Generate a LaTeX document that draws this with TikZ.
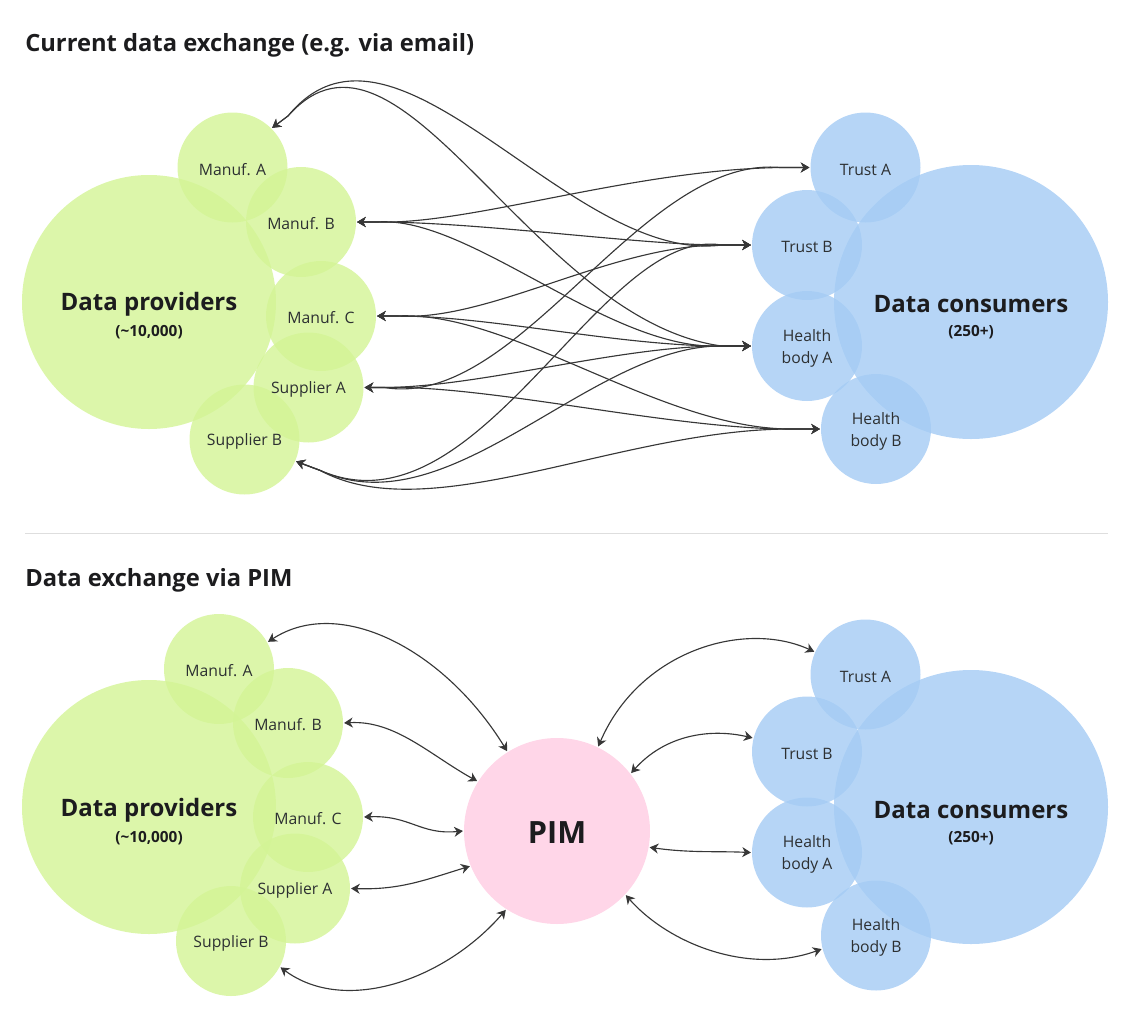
\documentclass[tikz,border=0pt]{standalone}
\usepackage{fontspec}
\setmainfont{Open Sans}
\usetikzlibrary{arrows.meta}
\definecolor{provgreen}{RGB}{211,244,149}
\definecolor{consblue}{RGB}{164,203,244}
\definecolor{pimpink}{RGB}{255,214,232}
\definecolor{linkgray}{RGB}{55,55,55}
\definecolor{darktext}{RGB}{28,28,30}
\definecolor{smalltext}{RGB}{45,48,50}
\tikzstyle{small circle}=[
    circle,
    inner sep = 0pt,
    outer sep = 0.8pt,
    minimum size = 82.5pt,
    fill opacity = 0.8,
    text opacity = 1,
    text = smalltext,
    align = center,
    font = \fontsize{11.8}{16.5}\selectfont
]

\begin{document}
\begin{tikzpicture}[x=0.75pt, y=-0.75pt,
    provider/.style = {small circle, fill = provgreen},
    consumer/.style = {small circle, fill = consblue},
    big provider/.style = {provider, minimum size = 190.5pt},
    big consumer/.style = {consumer, minimum size = 205.5pt},
    label/.style = {inner sep = 0pt, text = smalltext, align = center, font = \fontsize{11.8}{16.5}\selectfont},
    heading/.style = {anchor = west, inner sep = 0pt, text = darktext, font = \fontsize{17.8}{20}\selectfont\bfseries},
    big label/.style = {text = darktext, font = \fontsize{18}{20}\selectfont\bfseries},
    count label/.style = {text = darktext, font = \fontsize{11.5}{12}\selectfont\bfseries},
    link/.style = {{Stealth[length=6.5pt,width=7.5pt,inset=2pt]}-{Stealth[length=6.5pt,width=7.5pt,inset=2pt]}, draw = linkgray, line width = 0.85pt}]
        \useasboundingbox (0,0) rectangle (1129,1011);

        % current exchange
        \node[heading] (title1) at (25,45) {Current data exchange (e.g. via email)};

        \node[big provider] (prov) at (149,302) {};
        \node[provider] (ma) at (232.5,167.5) {};
        \node[provider] (mb) at (301,222) {};
        \node[provider] (mc) at (321,316) {};
        \node[provider] (sa) at (308.5,387.5) {};
        \node[provider] (sb) at (244.5,439.5) {};
        \node[label] (malabel) at (232.5,169.5) {Manuf. A};
        \node[label] (mblabel) at (301,224) {Manuf. B};
        \node[label] (mclabel) at (321,318) {Manuf. C};
        \node[label] (salabel) at (308.5,389.5) {Supplier A};
        \node[label] (sblabel) at (244.5,441.5) {Supplier B};
        \node[big label] (provname) at (149,304) {Data providers};
        \node[count label] (provcount) at (149,332) {(\textasciitilde10,000)};

        \node[big consumer] (cons) at (971,302) {};
        \node[consumer] (ta) at (865.5,167.5) {};
        \node[consumer] (tb) at (807,245) {};
        \node[consumer] (ha) at (807,346) {};
        \node[consumer] (hb) at (876,429) {};
        \node[label] (talabel) at (865.5,169.5) {Trust A};
        \node[label] (tblabel) at (807,247) {Trust B};
        \node[label] (halabel) at (807,348) {Health\\body A};
        \node[label] (hblabel) at (876,431) {Health\\body B};
        \node[big label] (consname) at (971,304) {Data consumers};
        \node[count label] (conscount) at (971,332) {(250+)};

        \draw[link] (ma.45) -- ++(16,-12) .. controls (395,-15) and (570,265) .. ([xshift=-22pt]tb.west) -- (tb.west);
        \draw[link] (ma.45) -- ++(16,-12) .. controls (400,-10) and (530,320) .. ([xshift=-22pt]ha.west) -- (ha.west);
        \draw[link] (mb.east) -- ++(20,0) .. controls (470,225) and (630,170) .. ([xshift=-22pt]ta.west) -- (ta.west);
        \draw[link] (mb.east) -- ++(20,0) .. controls (480,222) and (640,245) .. ([xshift=-22pt]tb.west) -- (tb.west);
        \draw[link] (mb.east) -- ++(20,0) .. controls (470,215) and (610,352) .. ([xshift=-22pt]ha.west) -- (ha.west);
        \draw[link] (mc.east) -- ++(20,0) .. controls (490,322) and (610,245) .. ([xshift=-22pt]tb.west) -- (tb.west);
        \draw[link] (mc.east) -- ++(20,0) .. controls (490,316) and (620,346) .. ([xshift=-22pt]ha.west) -- (ha.west);
        \draw[link] (mc.east) -- ++(20,0) .. controls (510,310) and (660,429) .. ([xshift=-22pt]hb.west) -- (hb.west);
        \draw[link] (sa.east) -- ++(20,0) .. controls (520,410) and (640,155) .. ([xshift=-22pt]ta.west) -- (ta.west);
        \draw[link] (sa.east) -- ++(20,0) .. controls (480,387) and (620,346) .. ([xshift=-22pt]ha.west) -- (ha.west);
        \draw[link] (sa.east) -- ++(20,0) .. controls (490,385) and (670,429) .. ([xshift=-22pt]hb.west) -- (hb.west);
        \draw[link] (sb.-23) -- ++(24,9) .. controls (480,540) and (600,225) .. ([xshift=-22pt]tb.west) -- (tb.west);
        \draw[link] (sb.-23) -- ++(24,9) .. controls (450,530) and (590,345) .. ([xshift=-22pt]ha.west) -- (ha.west);
        \draw[link] (sb.-23) -- ++(24,9) .. controls (430,530) and (620,429) .. ([xshift=-22pt]hb.west) -- (hb.west);

        \draw[draw = black!13, line width = 0.75pt] (25,533) coordinate (rulestart) -- (1108,533) coordinate (ruleend);

        % exchange via PIM
        \node[heading] (title2) at (25,580) {Data exchange via PIM};

        \node[big provider] (pprov) at (149,807) {};
        \node[provider] (pma) at (219,669) {};
        \node[provider] (pmb) at (288,723) {};
        \node[provider] (pmc) at (308,817) {};
        \node[provider] (psa) at (295,888.5) {};
        \node[provider] (psb) at (231,941) {};
        \node[label] (pmalabel) at (219,671) {Manuf. A};
        \node[label] (pmblabel) at (288,725) {Manuf. B};
        \node[label] (pmclabel) at (308,819) {Manuf. C};
        \node[label] (psalabel) at (295,890.5) {Supplier A};
        \node[label] (psblabel) at (231,943) {Supplier B};
        \node[big label] (pprovname) at (149,810) {Data providers};
        \node[count label] (pprovcount) at (149,838) {(\textasciitilde10,000)};

        \node[big consumer] (pcons) at (971,807) {};
        \node[consumer] (pta) at (865.5,674.5) {};
        \node[consumer] (ptb) at (807,751.5) {};
        \node[consumer] (pha) at (807,852.5) {};
        \node[consumer] (phb) at (876,935.5) {};
        \node[label] (ptalabel) at (865.5,676.5) {Trust A};
        \node[label] (ptblabel) at (807,753.5) {Trust B};
        \node[label] (phalabel) at (807,854.5) {Health\\body A};
        \node[label] (phblabel) at (876,937.5) {Health\\body B};
        \node[big label] (pconsname) at (971,810) {Data consumers};
        \node[count label] (pconscount) at (971,838) {(250+)};

        \node[circle, fill = pimpink, inner sep = 0pt, outer sep = 0.8pt, minimum size = 139.5pt] (pim) at (557,831) {};
        \node[text = darktext, font = \fontsize{23}{26}\selectfont\bfseries] (pimlabel) at (557,832.5) {PIM};

        \draw[link] (pma.29) .. controls (340,595) and (445,650) .. (pim.122);
        \draw[link] (pmb.east) .. controls (395,720) and (430,755) .. (pim.148);
        \draw[link] (pmc.east) .. controls (410,815) and (420,835) .. (pim.west);
        \draw[link] (psa.east) .. controls (400,890) and (425,880) .. (pim.202);
        \draw[link] (psb.-28) .. controls (345,1015) and (445,980) .. (pim.237);
        \draw[link] (pim.64) .. controls (640,650) and (745,620) .. (pta.156);
        \draw[link] (pim.38) .. controls (665,735) and (710,728) .. (ptb.166);
        \draw[link] (pim.-10) .. controls (690,853) and (715,851) .. (pha.west);
        \draw[link] (pim.-43) .. controls (670,945) and (750,975) .. (phb.194);

    \end{tikzpicture}
\end{document}
